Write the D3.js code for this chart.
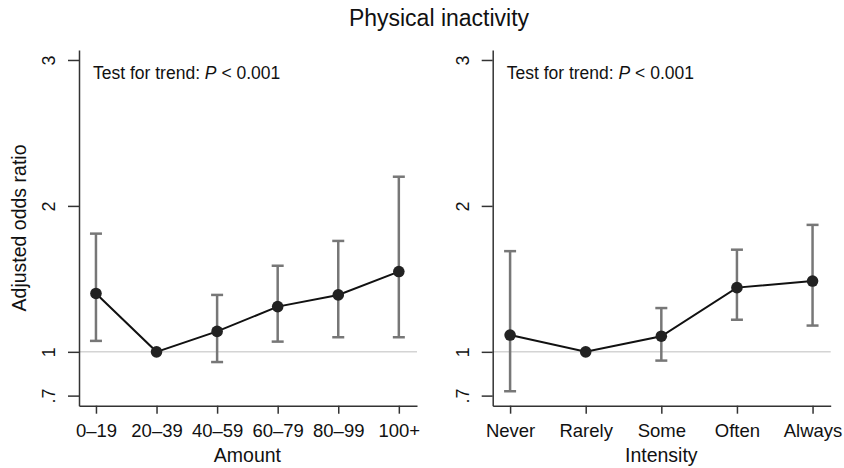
<!DOCTYPE html>
<html>
<head>
<meta charset="utf-8">
<script src="https://cdn.jsdelivr.net/npm/d3@7"></script>
<style>
  body { margin: 0; background: #fff; }
  svg { display: block; font-family: "Liberation Sans", Arial, sans-serif; }
</style>
</head>
<body>
<div id="mainDiv"></div>
<script>
const amountLabels = ["0–19", "20–39", "40–59", "60–79", "80–99", "100+"];
const amountOdds = [1.40, 1.00, 1.14, 1.31, 1.39, 1.55];
const amountLower = [1.075, null, 0.93, 1.07, 1.10, 1.10];
const amountUpper = [1.81, null, 1.39, 1.59, 1.76, 2.20];

const intensityLabels = ["Never", "Rarely", "Some", "Often", "Always"];
const intensityOdds = [1.115, 1.00, 1.107, 1.44, 1.485];
const intensityLower = [0.73, null, 0.94, 1.22, 1.18];
const intensityUpper = [1.69, null, 1.30, 1.70, 1.87];

const yTicks = [0.7, 1, 2, 3];
const yTickLabels = [".7", "1", "2", "3"];

const chartSize = { width: 844, height: 468 };

const panels = [
  {
    labels: amountLabels, odds: amountOdds, lower: amountLower, upper: amountUpper,
    title: "Amount", left: 79, right: 417, pad: [0.28, 0.3],
  },
  {
    labels: intensityLabels, odds: intensityOdds, lower: intensityLower, upper: intensityUpper,
    title: "Intensity", left: 492.7, right: 830.7, pad: [0.23, 0.24],
  },
];

const plotTop = 50;
const plotBottom = 405.7;

const y = d3.scaleLinear()
  .domain([1 - (plotBottom - 351.7) / 146.3, 3 + (60 - plotTop) / 146.3])
  .range([plotBottom, plotTop]);

const svg = d3.select("#mainDiv")
  .append("svg")
  .attr("width", chartSize.width)
  .attr("height", chartSize.height);

svg.append("text")
  .attr("x", 439)
  .attr("y", 26)
  .attr("text-anchor", "middle")
  .attr("font-size", 23)
  .attr("fill", "#111")
  .text("Physical inactivity");

svg.append("text")
  .attr("transform", "translate(26,228) rotate(-90)")
  .attr("text-anchor", "middle")
  .attr("font-size", 19.5)
  .attr("fill", "#111")
  .text("Adjusted odds ratio");

function drawPanel(p) {
  let n = p.labels.length;
  let x = d3.scaleLinear()
    .domain([-p.pad[0], n - 1 + p.pad[1]])
    .range([p.left, p.right]);

  let g = svg.append("g");

  // reference line at 1
  g.append("line")
    .attr("x1", p.left)
    .attr("x2", p.right)
    .attr("y1", y(1))
    .attr("y2", y(1))
    .attr("stroke", "#d4d4d4")
    .attr("stroke-width", 1.5);

  // y axis
  let yAxis = g.append("g")
    .attr("transform", `translate(${p.left},0)`)
    .call(d3.axisLeft(y)
      .tickValues(yTicks)
      .tickSize(11)
      .tickSizeOuter(0)
      .tickFormat((d, i) => yTickLabels[i]));
  yAxis.select(".domain").attr("stroke", "#333").attr("stroke-width", 1.5);
  yAxis.selectAll(".tick line").attr("stroke", "#333").attr("stroke-width", 1.5);
  yAxis.selectAll(".tick text")
    .attr("x", null)
    .attr("dy", null)
    .attr("transform", "translate(-30,0) rotate(-90)")
    .attr("text-anchor", "middle")
    .attr("dominant-baseline", "central")
    .attr("font-size", 18)
    .attr("fill", "#111");

  // x axis
  let xAxis = g.append("g")
    .attr("transform", `translate(0,${plotBottom})`)
    .call(d3.axisBottom(x)
      .tickValues(d3.range(n))
      .tickSize(8)
      .tickSizeOuter(0)
      .tickFormat(i => p.labels[i]));
  xAxis.select(".domain").attr("stroke", "#333").attr("stroke-width", 1.5);
  xAxis.selectAll(".tick line").attr("stroke", "#333").attr("stroke-width", 1.5);
  xAxis.selectAll(".tick text")
    .attr("y", 18)
    .attr("font-size", 18.5)
    .attr("fill", "#111");

  g.append("text")
    .attr("x", (x(0) + x(n - 1)) / 2)
    .attr("y", 462)
    .attr("text-anchor", "middle")
    .attr("font-size", 19.5)
    .attr("fill", "#111")
    .text(p.title);

  // trend note
  let note = g.append("text")
    .attr("x", p.left + 14)
    .attr("y", 79)
    .attr("font-size", 17.5)
    .attr("fill", "#111");
  note.append("tspan").text("Test for trend: ");
  note.append("tspan").attr("font-style", "italic").text("P");
  note.append("tspan").text(" < 0.001");

  // error bars
  let idx = d3.range(n).filter(i => p.lower[i] != null);
  let bars = g.append("g")
    .attr("stroke", "#777")
    .attr("stroke-width", 2.5);
  bars.selectAll("line.v")
    .data(idx)
    .join("line")
    .attr("class", "v")
    .attr("x1", i => x(i))
    .attr("x2", i => x(i))
    .attr("y1", i => y(p.lower[i]))
    .attr("y2", i => y(p.upper[i]));
  bars.selectAll("line.lo")
    .data(idx)
    .join("line")
    .attr("class", "lo")
    .attr("x1", i => x(i) - 6)
    .attr("x2", i => x(i) + 6)
    .attr("y1", i => y(p.lower[i]))
    .attr("y2", i => y(p.lower[i]));
  bars.selectAll("line.hi")
    .data(idx)
    .join("line")
    .attr("class", "hi")
    .attr("x1", i => x(i) - 6)
    .attr("x2", i => x(i) + 6)
    .attr("y1", i => y(p.upper[i]))
    .attr("y2", i => y(p.upper[i]));

  // line and points
  g.append("path")
    .datum(p.odds)
    .attr("fill", "none")
    .attr("stroke", "#111")
    .attr("stroke-width", 2)
    .attr("d", d3.line((d, i) => x(i), d => y(d)));

  g.append("g")
    .selectAll("circle")
    .data(p.odds)
    .join("circle")
    .attr("cx", (d, i) => x(i))
    .attr("cy", d => y(d))
    .attr("r", 5.8)
    .attr("fill", "#222");
}

panels.forEach(drawPanel);
</script>
</body>
</html>
